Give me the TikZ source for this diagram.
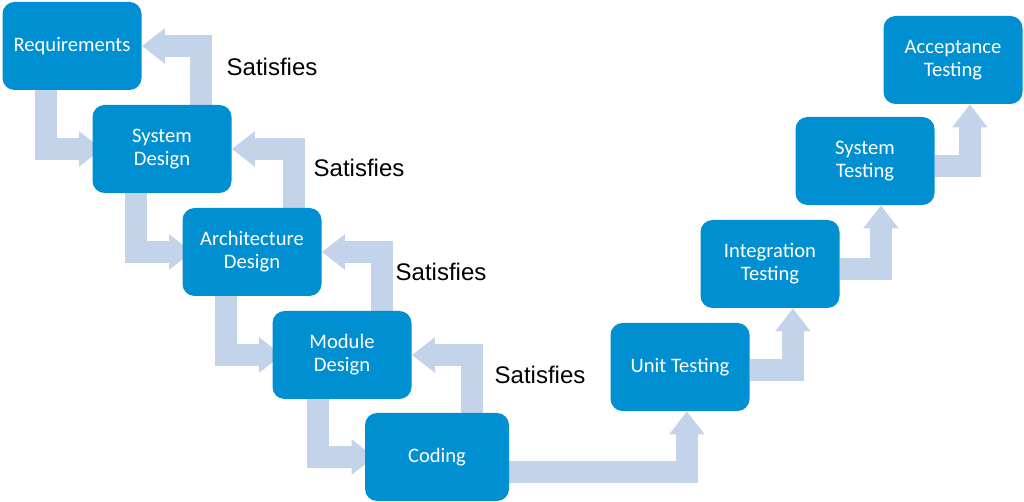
\documentclass[tikz,border=0pt]{standalone}
\usepackage{fontspec}
\setmainfont{Carlito}
\newfontfamily\satfont{Liberation Sans}
\usetikzlibrary{positioning,arrows.meta,backgrounds}
\definecolor{stageblue}{RGB}{0,143,208}
\definecolor{flowgray}{RGB}{195,211,234}

\begin{document}
\begin{tikzpicture}[x=0.5pt,y=-0.5pt,on grid,node distance=51.5pt and 45pt,
	stage/.style={rectangle,rounded corners=6pt,fill=stageblue,text=white,minimum width=69.5pt,minimum height=44pt,align=center,font=\fontsize{10.3}{11.5}\selectfont},
	sat/.style={font=\satfont\fontsize{12}{14}\selectfont},
	flow/.style={draw=flowgray,line width=11pt,line join=miter,-{Triangle[length=11.5pt,width=17pt]}}]
	\useasboundingbox (0,0) rectangle (1024,502);
	\node[stage] (req) at (72,46) {Requirements};
	\node[stage] (sysd) [below right=of req] {System\\Design};
	\node[stage] (arch) [below right=of sysd] {Architecture\\Design};
	\node[stage] (mod) [below right=of arch] {Module\\Design};
	\node[stage,minimum width=72pt] (cod) [below right=51pt and 47.5pt of mod] {Coding};
	\node[stage] (unit) [above right=45pt and 121.5pt of cod] {Unit Testing};
	\node[stage] (integ) [above right=of unit] {Integration\\Testing};
	\node[stage] (syst) [above right=51.5pt and 47.5pt of integ] {System\\Testing};
	\node[stage] (acc) [above right=50.5pt and 44pt of syst] {Acceptance\\Testing};
	\node[sat] (sat1) at (272,67) {Satisfies};
	\node[sat] (sat2) at (359,168) {Satisfies};
	\node[sat] (sat3) at (441,272) {Satisfies};
	\node[sat] (sat4) at (540,375) {Satisfies};
	\begin{scope}[on background layer]
	% going down
	\draw[flow] ([xshift=22pt]req.south west) |- ([xshift=5pt]sysd.west);
	\draw[flow] ([xshift=22pt]sysd.south west) |- ([xshift=5pt]arch.west);
	\draw[flow] ([xshift=22pt]arch.south west) |- ([xshift=5pt]mod.west);
	\draw[flow] ([xshift=23pt]mod.south west) |- ([xshift=5pt]cod.west);
	% satisfies
	\draw[flow] ([xshift=-15.5pt]sysd.north east) |- (req.east);
	\draw[flow] ([xshift=-14pt]arch.north east) |- (sysd.east);
	\draw[flow] ([xshift=-15pt]mod.north east) |- (arch.east);
	\draw[flow] ([xshift=-18.5pt]cod.north east) |- (mod.east);
	% going up
	\draw[flow] ([yshift=-7.5pt]cod.east) -| ([xshift=-31.5pt]unit.south east);
	\draw[flow] ([yshift=-1.5pt]unit.east) -| ([xshift=-23.5pt]integ.south east);
	\draw[flow] ([yshift=-2.5pt]integ.east) -| ([xshift=-27pt]syst.south east);
	\draw[flow] ([yshift=-2.5pt]syst.east) -| ([xshift=-26.5pt]acc.south east);
	\end{scope}
\end{tikzpicture}
\end{document}
